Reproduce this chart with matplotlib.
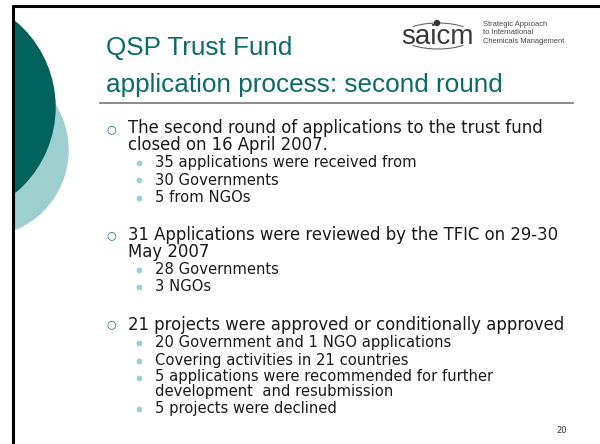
import matplotlib
matplotlib.use("Agg")
import matplotlib.pyplot as plt
from matplotlib.patches import Circle, Rectangle, Arc

# slide text
title_lines = ["QSP Trust Fund", "application process: second round"]
logo_word = "saicm"
logo_caption = ["Strategic Approach", "to International", "Chemicals Management"]

# (level, lines of one bullet)
bullets = [
    (1, ["The second round of applications to the trust fund",
         "closed on 16 April 2007."]),
    (2, ["35 applications were received from"]),
    (2, ["30 Governments"]),
    (2, ["5 from NGOs"]),
    (1, ["31 Applications were reviewed by the TFIC on 29-30",
         "May 2007"]),
    (2, ["28 Governments"]),
    (2, ["3 NGOs"]),
    (1, ["21 projects were approved or conditionally approved"]),
    (2, ["20 Government and 1 NGO applications"]),
    (2, ["Covering activities in 21 countries"]),
    (2, ["5 applications were recommended for further",
         "development  and resubmission"]),
    (2, ["5 projects were declined"]),
]
page_number = "20"

TEAL = "#0b6b66"
DARK = "#00625d"
LIGHT = "#9dcfcf"
TXT = "#1a1a1a"

fig = plt.figure(figsize=(6, 4.44), dpi=100)
ax = fig.add_axes([0, 0, 1, 1])
ax.set_xlim(0, 600)
ax.set_ylim(444, 0)
ax.axis("off")

# decorative circles on the left, clipped at the border
clip = Rectangle((13, 6), 600, 444, transform=ax.transData, visible=False)
ax.add_patch(clip)
for c in [Circle((-18, 150), 86, color=LIGHT, zorder=1),
          Circle((-56, 107), 111, color=DARK, zorder=2)]:
    ax.add_patch(c)
    c.set_clip_path(clip)

# border (top and left only)
ax.plot([12, 600], [6, 6], color="black", lw=2.2, zorder=5, solid_capstyle="butt")
ax.plot([13, 13], [5, 444], color="black", lw=2.2, zorder=5, solid_capstyle="butt")

# title
for i, t in enumerate(title_lines):
    ax.text(106, 55 + i * 37, t, color=TEAL, fontsize=18.8,
            family="Liberation Sans", va="baseline", ha="left")
ax.plot([100, 573], [103, 103], color="#777777", lw=1.2)

# logo
ax.text(437, 37, logo_word, color="#3a3a3a", fontsize=20, family="Liberation Sans",
        ha="center", va="center")
ax.add_patch(Arc((438, 36), 72, 26, theta1=20, theta2=160, color="#666666", lw=0.8))
ax.add_patch(Arc((438, 36), 72, 26, theta1=200, theta2=340, color="#666666", lw=0.8))
ax.add_patch(Circle((437, 23), 2.5, color="#333333"))
ax.text(483, 33, "\n".join(logo_caption), color="#444444", fontsize=5.4,
        family="Liberation Sans", ha="left", va="center", linespacing=1.3)

# body bullets
y = 129
prev = None
for level, lines in bullets:
    if prev is not None:
        if level == 1:
            y += 38
        elif prev == 2:
            y += 17.5
        else:
            y += 18
    if level == 1:
        ax.text(111, y, "\u25cb", color=TEAL, fontsize=8, ha="center", va="center",
                family="DejaVu Sans")
        x, fs, step, ls = 128, 11.9, 15.5, 0.91
    else:
        ax.plot(139, y + 0.5, "o", color=LIGHT, ms=4.2, mec="none")
        x, fs, step, ls = 155, 10.6, 13.5, 0.96
    n = len(lines)
    ax.text(x, y + (n - 1) * step / 2, "\n".join(lines), color=TXT, fontsize=fs,
            family="DejaVu Sans", ha="left", va="center", linespacing=ls)
    y += (n - 1) * step
    prev = level

ax.text(562, 430, page_number, color="#333333", fontsize=6, family="DejaVu Sans",
        ha="center", va="center")

fig.savefig("out.png", dpi=100)
